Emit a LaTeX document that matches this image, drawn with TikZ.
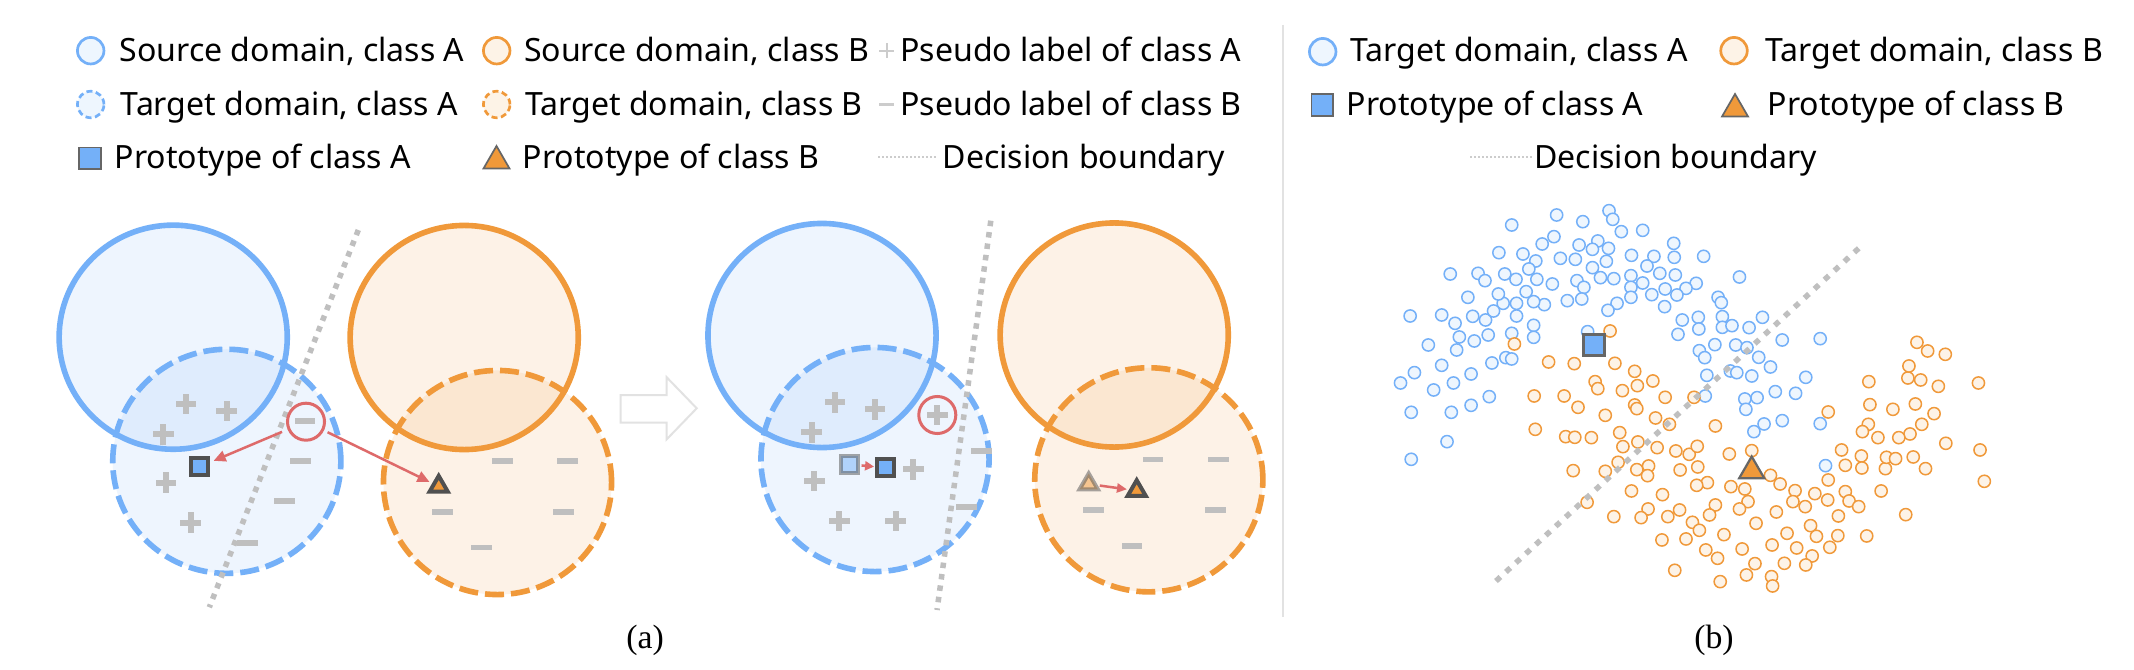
\documentclass[tikz,border=0pt]{standalone}
\usepackage{fontspec}
\setmainfont{Noto Sans}
\newfontfamily\capfont{Liberation Serif}
\usetikzlibrary{arrows.meta,shapes.geometric}
\definecolor{cblue}{HTML}{74B0F8}
\definecolor{corange}{HTML}{F0993A}
\definecolor{cgray}{HTML}{BFBFBF}
\definecolor{clgray}{HTML}{CCCCCC}
\definecolor{cred}{HTML}{DE6A6A}
\definecolor{cdark}{HTML}{505050}
\definecolor{cmid}{HTML}{666666}
\definecolor{csep}{HTML}{E2E2E2}
\newcommand\legfont{\fontsize{9.12pt}{11pt}\selectfont}
\newcommand\capsize{\capfont\fontsize{9.6pt}{11pt}\selectfont}
\tikzset{
 srcA/.style={ellipse, draw=cblue, fill=cblue, fill opacity=0.12, draw opacity=1, line width=0.056cm, minimum width=2.28cm, minimum height=2.24cm, inner sep=0pt},
 srcB/.style={srcA, draw=corange, fill=corange},
 tgtA/.style={srcA, dash pattern=on 0.19cm off 0.07cm},
 tgtB/.style={srcB, dash pattern=on 0.19cm off 0.07cm},
 bound/.style={draw=cgray, line width=0.055cm, dash pattern=on 0.055cm off 0.06cm},
 protoA/.style={rectangle, draw=cdark, fill=cblue, line width=0.04cm, minimum size=0.165cm, inner sep=0pt},
 protoB/.style={regular polygon, regular polygon sides=3, draw=cdark, fill=corange, line width=0.04cm, minimum size=0.21cm, inner sep=0pt},
 ring/.style={circle, draw=cred, line width=0.03cm, minimum size=0.37cm, inner sep=0pt},
 redarrow/.style={draw=cred, line width=0.025cm, -{Triangle[length=0.12cm,width=0.11cm]}},
 legtext/.style={anchor=base west, inner sep=0pt, font=\legfont},
 legcircA/.style={circle, draw=cblue, fill=cblue!12!white, line width=0.027cm, minimum size=0.265cm, inner sep=0pt},
 legcircB/.style={legcircA, draw=corange, fill=corange!12!white},
 legdashA/.style={legcircA, dash pattern=on 0.06cm off 0.035cm},
 legdashB/.style={legcircB, dash pattern=on 0.06cm off 0.035cm},
 legsq/.style={rectangle, draw=cmid, fill=cblue, line width=0.017cm, minimum size=0.213cm, inner sep=0pt},
 legtri/.style={regular polygon, regular polygon sides=3, draw=cmid, fill=corange, line width=0.017cm, minimum size=0.30cm, inner sep=0pt},
 legdot/.style={draw=clgray, line width=0.02cm, dash pattern=on 0.02cm off 0.02cm},
 bdot/.style={circle, draw=cblue, fill=cblue!12!white, line width=0.015cm, minimum size=0.122cm, inner sep=0pt},
 odot/.style={circle, draw=corange, fill=corange!12!white, line width=0.015cm, minimum size=0.122cm, inner sep=0pt},
 pplus/.pic={\fill[cgray] (-10.3,-3) rectangle (10.3,3); \fill[cgray] (-3,-10.3) rectangle (3,10.3);},
 pminus/.pic={\fill[cgray] (-10.3,-2.8) rectangle (10.3,2.8);},
 lplus/.pic={\fill[clgray] (-7.5,-1.1) rectangle (7.5,1.1); \fill[clgray] (-1.1,-7.5) rectangle (1.1,7.5);},
 lminus/.pic={\fill[clgray] (-7.5,-1.2) rectangle (7.5,1.2);},
}
\begin{document}
\begin{tikzpicture}[x=0.01cm,y=-0.01cm]
\fill[white] (0,0) rectangle (2134,670);
\useasboundingbox (0,0) rectangle (2134,670);

% ---------- legend (a) ----------
\node[legcircA] (la1) at (90.7,50.7) {};
\node[legtext] (ta1) at (119,61.7) {Source domain, class A};
\node[legdashA] (la2) at (90.7,104.5) {};
\node[legtext] (ta2) at (120,115.3) {Target domain, class A};
\node[legsq] (la3) at (90,158.3) {};
\node[legtext] (ta3) at (114,169) {Prototype of class A};
\node[legcircB] (lb1) at (496.7,50.7) {};
\node[legtext] (tb1) at (523.3,61.7) {Source domain, class B};
\node[legdashB] (lb2) at (496.7,104.5) {};
\node[legtext] (tb2) at (524.5,115.3) {Target domain, class B};
\node[legtri] (lb3) at (496.5,161) {};
\node[legtext] (tb3) at (522,169) {Prototype of class B};
\pic at (886.7,50.7) {lplus};
\node[legtext] (tc1) at (899.7,61.7) {Pseudo label of class A};
\pic at (886.7,104.5) {lminus};
\node[legtext] (tc2) at (899.7,115.3) {Pseudo label of class B};
\coordinate (ld1) at (878,157.3);
\coordinate (ld2) at (938,157.3);
\draw[legdot] (ld1) -- (ld2);
\node[legtext] (tc3) at (942,169) {Decision boundary};

% ---------- legend (b) ----------
\node[legcircA] (ma1) at (1322.7,51.7) {};
\node[legtext] (ua1) at (1349.5,61.7) {Target domain, class A};
\node[legsq] (ma2) at (1322,105) {};
\node[legtext] (ua2) at (1346,115.3) {Prototype of class A};
\node[legcircB] (mb1) at (1734,50.7) {};
\node[legtext] (ub1) at (1764.5,61.7) {Target domain, class B};
\node[legtri] (mb2) at (1735,109) {};
\node[legtext] (ub2) at (1767,115.3) {Prototype of class B};
\coordinate (md1) at (1470,157.3);
\coordinate (md2) at (1531.7,157.3);
\draw[legdot] (md1) -- (md2);
\node[legtext] (uc3) at (1533.7,169) {Decision boundary};

% separator
\coordinate (s1) at (1283,25);
\coordinate (s2) at (1283,617);
\draw[csep, line width=0.02cm] (s1) -- (s2);

% ---------- panel (a), before ----------
\node[tgtA] (tA1) at (226.8,461.3) {};
\node[tgtB] (tB1) at (497.5,482.5) {};
\node[srcA] (sA1) at (173.2,337.2) {};
\node[srcB] (sB1) at (464.2,337.5) {};
\coordinate (db1a) at (358.3,230);
\coordinate (db1b) at (209.3,607.3);
\draw[bound] (db1a) -- (db1b);
\pic at (186,404) {pplus};
\pic at (226.7,411) {pplus};
\pic at (163.3,434.3) {pplus};
\pic at (166,482.7) {pplus};
\pic at (190.7,522.7) {pplus};
\pic at (305,421) {pminus};
\pic at (300.7,461) {pminus};
\pic at (284.3,500.7) {pminus};
\pic at (247.3,542.7) {pminus};
\pic at (502.3,461) {pminus};
\pic at (567.7,461) {pminus};
\pic at (442.5,512) {pminus};
\pic at (563.3,512) {pminus};
\pic at (481.5,547.3) {pminus};
\node[ring] (rc1) at (306,421.7) {};
\node[protoA] (pA1) at (199.7,466.7) {};
\node[protoB] (pB1) at (438.7,486.4) {};
\draw[redarrow, shorten <=0.06cm, shorten >=0.04cm] (rc1) -- (pA1);
\draw[redarrow, shorten <=0.04cm, shorten >=0.03cm] (rc1) -- (pB1);

% big hollow arrow
\draw[csep, line width=0.02cm, line join=miter] (620.7,395) -- (666.7,395) -- (666.7,377.3) -- (696.7,408.3) -- (666.7,439.3) -- (666.7,422.7) -- (620.7,422.7) -- cycle;

% ---------- panel (a), after ----------
\node[tgtA] (tA2) at (875,459.5) {};
\node[tgtB] (tB2) at (1148.8,479.8) {};
\node[srcA] (sA2) at (822,335.5) {};
\node[srcB] (sB2) at (1114.2,335) {};
\coordinate (db2a) at (990.8,220.7);
\coordinate (db2b) at (937,610);
\draw[bound] (db2a) -- (db2b);
\pic at (835,402.3) {pplus};
\pic at (875,409.3) {pplus};
\pic at (811.7,432.3) {pplus};
\pic at (814.3,481) {pplus};
\pic at (913.3,469.3) {pplus};
\pic at (839.3,521) {pplus};
\pic at (895.7,521) {pplus};
\pic at (937.3,415) {pplus};
\pic at (981.3,450.7) {pminus};
\pic at (966.7,506.7) {pminus};
\pic at (1152.9,459.3) {pminus};
\pic at (1218.7,459.3) {pminus};
\pic at (1093.7,510) {pminus};
\pic at (1215.4,510) {pminus};
\pic at (1132,545.7) {pminus};
\node[ring] (rc2) at (937.3,415) {};
\node[protoA, opacity=0.5] (qA0) at (849.3,464.3) {};
\node[protoA] (qA1) at (885.3,467.7) {};
\node[protoB, opacity=0.5] (qB0) at (1088.7,484) {};
\node[protoB] (qB1) at (1136.7,490.7) {};
\draw[redarrow, -{Triangle[length=0.09cm,width=0.09cm]}, shorten <=0.02cm, shorten >=0.01cm] (qA0) -- (qA1);
\draw[redarrow, -{Triangle[length=0.1cm,width=0.09cm]}, shorten <=0.02cm, shorten >=0.02cm] (qB0) -- (qB1);

\node[font=\capsize, inner sep=0pt] (capa) at (645,640) {(a)};

% ---------- panel (b) ----------
\begin{scope}[shift={(1300,180)}, xscale=0.5346, yscale=0.3333]
\foreach \a/\b in {578/92, 585/118, 480/105, 529/125, 396/135, 601/155, 641/151, 475/170, 453/192, 522/195, 557/183, 547/208, 577/205, 699/190, 372/218, 417/222, 487/235, 515/238, 573/244, 620/226, 662/229, 700/232, 755/229, 441/243, 428/267, 281/282, 333/280, 346/302, 383/282, 404/298, 443/298, 472/312, 518/302, 531/322, 547/263, 562/293, 587/296, 619/287, 649/258, 673/280, 702/285, 741/310, 722/325, 705/345, 683/327, 658/344, 641/309, 619/322, 619/352, 593/370, 576/391, 527/357, 500/362, 457/374, 437/365, 405/370, 380/370, 371/342, 423/335, 314/352, 206/408, 265/405, 290/430, 323/409, 347/420, 362/393, 405/408, 437/436, 437/472, 396/460, 352/465, 326/483, 298/471, 293/510, 240/495, 265/556, 214/578, 188/609, 250/630, 287/609, 320/582, 359/549, 385/533, 396/537, 354/650, 320/676, 283/697, 208/697, 275/785, 208/838, 538/455, 682/380, 782/352, 788/368, 822/291, 715/420, 745/412, 790/410, 865/412, 707/463, 746/447, 790/442, 808/437, 840/443, 902/480, 973/476, 747/512, 757/533, 776/494, 815/495, 836/503, 858/532, 880/561, 761/586, 805/573, 817/578, 845/588, 946/592, 758/648, 832/657, 855/653, 834/688, 889/635, 927/640, 868/732, 849/755, 902/722, 973/731, 983/857}
  \node[bdot] at (\a,\b) {};
\foreach \a/\b in {580/453, 401/492, 465/546, 513/551, 589/550, 626/574, 552/605, 557/626, 603/632, 631/617, 660/603, 438/648, 494/648, 520/682, 571/706, 626/675, 630/686, 683/652, 737/652, 665/714, 691/733, 440/748, 497/770, 514/772, 545/773, 598/758, 604/800, 632/786, 668/803, 703/813, 728/823, 743/799, 777/738, 803/822, 845/812, 511/872, 571/874, 595/847, 630/869, 652/858, 650/887, 711/870, 744/861, 880/886, 898/912, 762/908, 742/916, 806/920, 832/927, 926/932, 963/941, 1020/935, 988/900, 1013/810, 1050/828, 1020/856, 1051/864, 1095/866, 1097/832, 1114/836, 1147/831, 1170/866, 1208/790, 1272/810, 1280/904, 1087/933, 987/960, 1027/963, 1045/980, 1007/1008, 1133/1004, 1060/1068, 1006/1067, 991/1102, 955/1037, 966/1069, 929/1104, 958/1128, 946/1155, 906/1150, 911/1060, 883/1095, 891/996, 853/1030, 838/965, 822/987, 777/975, 766/1005, 734/1027, 747/1051, 710/990, 688/1010, 651/987, 638/1013, 587/1010, 620/933, 678/944, 537/967, 677/1080, 722/1077, 793/1064, 759/1110, 781/1135, 827/1107, 851/1151, 882/1190, 884/1218, 835/1185, 786/1205, 701/1171, 922/965, 945/980, 988/696, 1064/605, 1137/594, 1161/600, 1194/619, 1269/609, 1139/558, 1154/487, 1174/513, 1207/523, 1066/674, 1109/688, 1151/672, 1186/701, 1163/733, 1141/762, 1120/773, 1081/773, 1063/733, 1052/755}
  \node[odot] at (\a,\b) {};
\end{scope}
\coordinate (db3a) at (1858.7,248.3);
\coordinate (db3b) at (1493.5,583.3);
\draw[bound, dash pattern=on 0.06cm off 0.075cm] (db3a) -- (db3b);
\node[legsq, line width=0.025cm, minimum size=0.21cm] (rA) at (1593.8,345.2) {};
\node[legtri, line width=0.022cm, minimum size=0.29cm] (rB) at (1751.7,471) {};
\node[font=\capsize, inner sep=0pt] (capb) at (1714,640) {(b)};
\end{tikzpicture}
\end{document}
